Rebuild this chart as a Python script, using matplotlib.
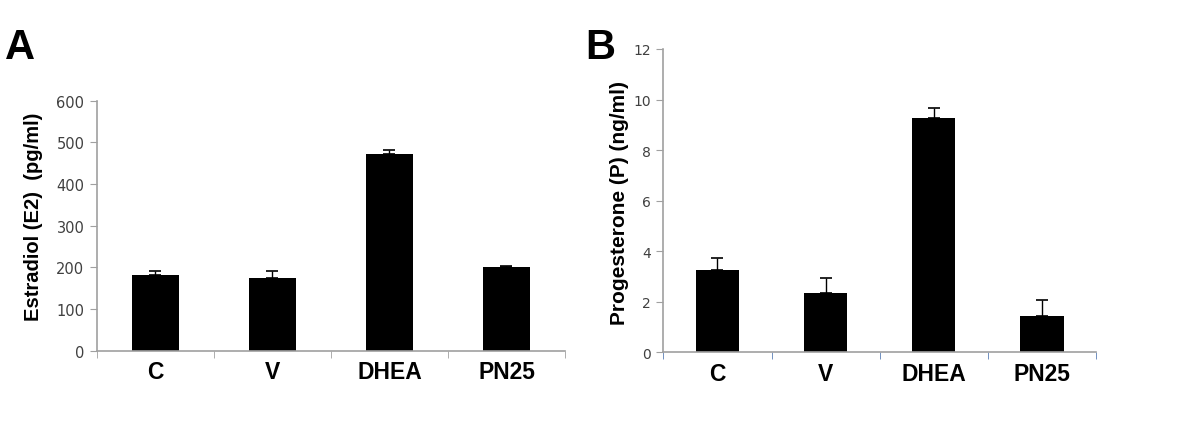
import numpy as np
import matplotlib
matplotlib.use('Agg')
from matplotlib import pyplot as plt

groups = ['C', 'V', 'DHEA', 'PN25']
e2 = [182, 174, 473, 200]
e2_err = [9, 17, 8, 4]
prog = [3.25, 2.35, 9.28, 1.45]
prog_err = [0.5, 0.6, 0.4, 0.6]

fig = plt.figure(figsize=(12, 4.31), dpi=100)

def panel(rect, vals, errs, ylim, yticks, ylabel, label_size, tick_size, xtick_color):
    ax = fig.add_axes(rect)
    x = np.arange(len(vals))
    ax.bar(x, vals, width=0.4, color='black', zorder=2)
    ax.errorbar(x, vals, yerr=[np.zeros(len(errs)), errs], fmt='none',
                ecolor='black', elinewidth=1.0, capsize=4, capthick=1.2, zorder=3)
    ax.set_xlim(-0.5, len(vals) - 0.5)
    ax.set_ylim(*ylim)
    ax.set_yticks(yticks)
    ax.set_yticklabels([str(t) for t in yticks], family='DejaVu Sans',
                       fontsize=tick_size, color='#404040')
    ax.set_xticks(x)
    ax.set_xticklabels(groups, fontsize=16.5, fontweight='bold', family='Liberation Sans')
    # boundary ticks between categories, like Excel
    ax.set_xticks(np.arange(len(vals) + 1) - 0.5, minor=True)
    ax.tick_params(axis='x', which='major', length=0, pad=7)
    ax.tick_params(axis='x', which='minor', length=5, color=xtick_color, direction='out')
    ax.tick_params(axis='y', length=5, color='#a0a0a0', direction='out', pad=4)
    for s in ['top', 'right']:
        ax.spines[s].set_visible(False)
    for s in ['left', 'bottom']:
        ax.spines[s].set_color('#a0a0a0')
        ax.spines[s].set_linewidth(1.2)
    ax.set_ylabel(ylabel, fontsize=label_size, fontweight='bold', family='Liberation Sans')
    return ax

axA = panel([0.0808, 0.184, 0.39, 0.58], e2, e2_err, (0, 600),
            [0, 100, 200, 300, 400, 500, 600], 'Estradiol (E2)  (pg/ml)',
            14.5, 10.5, '#a0a0a0')
axA.yaxis.set_label_coords(-0.115, 0.54)

axB = panel([0.5528, 0.1803, 0.3606, 0.7037], prog, prog_err, (0, 12),
            [0, 2, 4, 6, 8, 10, 12], 'Progesterone (P) (ng/ml)',
            15, 10, '#5b7fb5')
axB.yaxis.set_label_coords(-0.08, 0.496)

fig.text(0.004, 0.862, 'A', fontsize=30, fontweight='bold', family='Liberation Sans')
fig.text(0.488, 0.862, 'B', fontsize=30, fontweight='bold', family='Liberation Sans')

fig.savefig('out.png', dpi=100, facecolor='white')
